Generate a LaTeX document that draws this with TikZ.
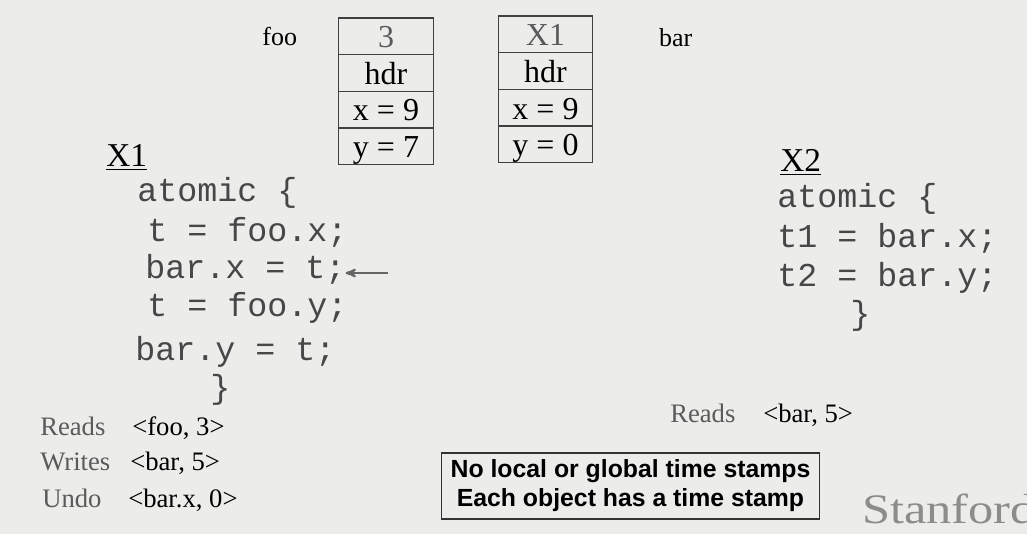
\documentclass[tikz,border=0pt]{standalone}
\usepackage{fontspec}
\usepackage{graphicx}
\setmainfont{Liberation Serif}
\newfontfamily\codefont{Liberation Mono}
\newfontfamily\notefont{Liberation Sans}
\usetikzlibrary{arrows, positioning}
\definecolor{slide}{RGB}{236,237,234}
\definecolor{dimtext}{RGB}{90,90,90}
\definecolor{logo}{RGB}{140,141,138}
\tikzstyle{cell}=[rectangle, draw=black!75, line width=0.9pt, minimum width=71pt, minimum height=27.5pt, inner sep=0pt, outer sep=0pt, font=\fontsize{24}{24}\selectfont, text height=17pt, text depth=0pt]
\tikzstyle{stampcell}=[cell, text=dimtext]
\tikzstyle{word}=[inner sep=0pt, font=\fontsize{19.5}{19.5}\selectfont]
\tikzstyle{log}=[anchor=base west, inner sep=0pt, font=\fontsize{20}{20}\selectfont]
\tikzstyle{txname}=[anchor=base west, inner sep=0pt, font=\fontsize{25}{25}\selectfont]
\tikzstyle{codeline}=[anchor=base west, inner sep=0pt, text=black!72, font=\fontsize{25}{25}\codefont]
\tikzstyle{arrowline}=[->, >=stealth', draw=black!60, line width=1.6pt]
\tikzstyle{note}=[rectangle, draw=black!80, line width=0.8pt, fill=slide, minimum width=283pt, minimum height=49.5pt, align=center, font=\fontsize{18.6}{21.75}\notefont\bfseries]

\begin{document}
\begin{tikzpicture}[x=0.75pt, y=-0.75pt]
  \clip (0,0) rectangle (1027,534);
  \fill[slide] (0,0) rectangle (1027,534);

  \node[stampcell] (foots) at (386,36.25) {3};
  \node[cell] (foohdr) [below=0pt of foots] {hdr};
  \node[cell] (foox) [below=0pt of foohdr] {x = 9};
  \node[cell] (fooy) [below=0pt of foox] {y = 7};
  \node[word] (foolbl) [left=31pt of foots] {foo};

  \node[stampcell] (barts) at (545.5,34.4) {X1};
  \node[cell] (barhdr) [below=0pt of barts] {hdr};
  \node[cell] (barxcell) [below=0pt of barhdr] {x = 9};
  \node[cell] (barycell) [below=0pt of barxcell] {y = 0};
  \node[word] (barlbl) [right=49.5pt of barts, yshift=-2.5pt] {bar};

  \node[txname] (xone) at (106,167) {\underline{X1}};
  \node[codeline] (atomone) at (137,202) {atomic \{};
  \node[codeline] (readx) at (147,242) {t = foo.x;};
  \node[codeline] (barx) at (145,279) {bar.x = t;};
  \node[codeline] (ready) at (147,317) {t = foo.y;};
  \node[codeline] (bary) at (135,360) {bar.y = t;};
  \node[codeline] (closeone) at (210,398) {\}};
  \coordinate (arrowtail) at (388,273);
  \draw[arrowline] (arrowtail) -- (barx.east |- arrowtail);

  \node[txname] (xtwo) at (780,172) {\underline{X2}};
  \node[codeline] (atomtwo) at (777,208) {atomic \{};
  \node[codeline] (tone) at (777,248) {t1 = bar.x;};
  \node[codeline] (ttwo) at (777,287) {t2 = bar.y;};
  \node[codeline] (closetwo) at (850,325) {\}};

  \node[log, text=dimtext] (readsone) at (40,435) {Reads};
  \node[log] (readsoneval) at (132,435) {<foo, 3>};
  \node[log, text=dimtext] (writesone) at (40,470) {Writes};
  \node[log] (writesoneval) at (130,470) {<bar, 5>};
  \node[log, text=dimtext] (undoone) at (42,507) {Undo};
  \node[log] (undooneval) at (128,507) {<bar.x, 0>};

  \node[log, text=dimtext] (readstwo) at (670,422) {Reads};
  \node[log] (readstwoval) at (763,422) {<bar, 5>};

  \node[note] (stamps) at (630.5,486) {No local or global time stamps\\Each object has a time stamp};
  \node[anchor=base west, inner sep=0pt, text=logo, font=\fontsize{31.5}{31.5}\selectfont] (brand) at (862,523) {\scalebox{1.2}[1]{Stanford}};
\end{tikzpicture}
\end{document}
